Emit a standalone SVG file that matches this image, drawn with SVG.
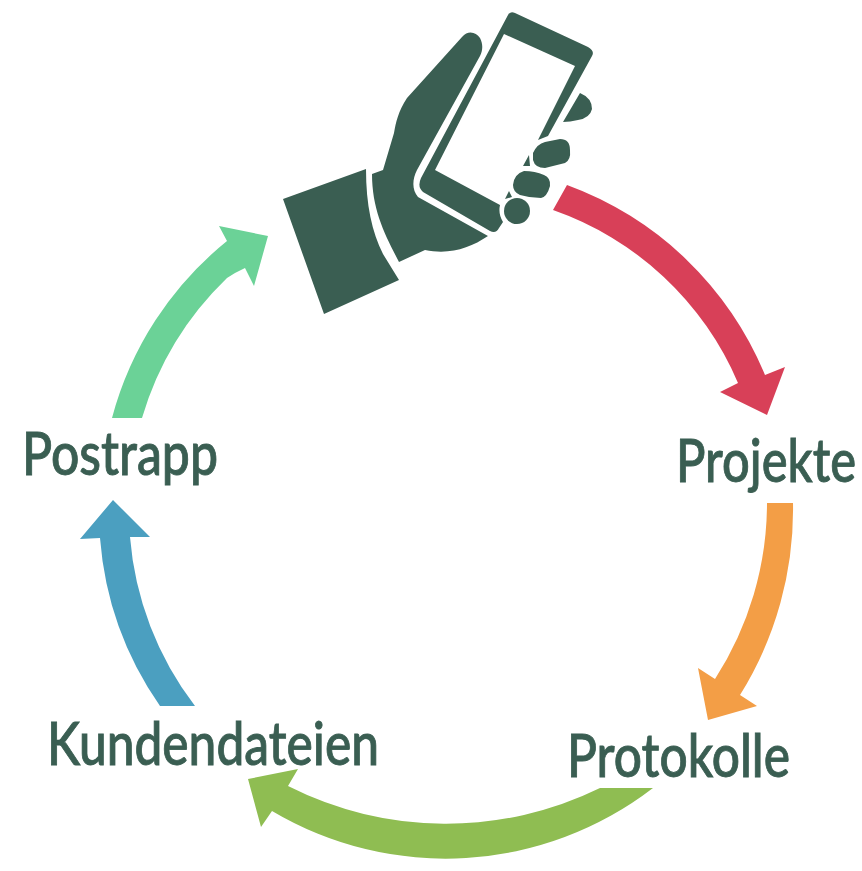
<svg xmlns="http://www.w3.org/2000/svg" width="862" height="871" viewBox="0 0 862 871">
<style>
.d{fill:#3a5e52}
.t{fill:#3a5e52;font-family:"Lato","Noto Sans",sans-serif;font-size:59px;font-weight:500;stroke:#3a5e52;stroke-width:.9}
</style>
<rect width="862" height="871" fill="#fff"/>
<g id="phone-hand">
<path class="d" d="M283,199 L366,169 C366,205 372,232 383,254 L399,280 L324,314 Z"/>
<path class="d" d="M372,174 L383,170 L394,133 C396,122 398,112 407,98 L462,37 C468,30 476,32 480,38 C483,44 483,50 480,56 L417,170 C412,180 412,190 418,197 L488,236 C470,248 450,255 425,250 L399,262 C385,235 372,210 372,174 Z"/>
<path class="d" d="M508,15 Q510,11 515,13 L588,47 Q595,51 592,56 L548,136 L538,140 L575,66 L504,34 L435,170 L500,205 Q498,214 503,222 L499,228 Q496,234 490,231 L423,192 Q417,187 421,178 Z"/>
<path class="d" d="M529,155 L523,166 L530,166 Z M509,191 L505,199 L512,197 Z"/>
<path class="d" d="M580,93 Q592,98 592,109 Q590,118 578,120 Q570,122 563,122 Z"/>
<path class="d" d="M533,153 Q537,144 545,142 L560,139 Q570,139 570,150 Q571,160 565,163 L545,168 Q535,168 533,160 Z"/>
<path class="d" d="M513,185 Q514,174 524,171 Q535,171 544,175 Q551,178 550,186 Q547,197 541,198 Q530,198 520,195 Q513,192 513,185 Z"/>
<circle class="d" cx="517" cy="211" r="13"/>
</g>
<g id="connectors">
<path fill="#d84058" d="M567,185 A340,340 0 0 1 765,375 L785,367 L767,415 L720,392 L738,383 A313,313 0 0 0 553,210 Z"/>
<path fill="#f39e46" d="M793,503 A350,350 0 0 1 740,695 L757,706 L708,720 L698,668 L715,679 A325,325 0 0 0 767,503 Z"/>
<path fill="#8fbd52" d="M653,788 A340,340 0 0 1 272,811 L261,827 L248,779 L298,769 L288,786 A350,350 0 0 0 600,788 Z"/>
<path fill="#4b9fc0" d="M160,706 A340,340 0 0 1 100,538 L80,539 L113,500 L150,537 L130,537 A320,320 0 0 0 195,706 Z"/>
<path fill="#6bd297" d="M112,418 A340,340 0 0 1 227,241 L219,226 L268,236 L254,286 L245,268 Q236,272 227,278 A320,320 0 0 0 142,418 Z"/>
</g>
<g id="label-projekte"><text class="t" x="676" y="482" textLength="180" lengthAdjust="spacingAndGlyphs">Projekte</text></g>
<g id="label-protokolle"><text class="t" x="567" y="777" textLength="223" lengthAdjust="spacingAndGlyphs">Protokolle</text></g>
<g id="label-kundendateien"><text class="t" x="47" y="765" textLength="332" lengthAdjust="spacingAndGlyphs">Kundendateien</text></g>
<g id="label-postrapp"><text class="t" x="22" y="475" textLength="196" lengthAdjust="spacingAndGlyphs">Postrapp</text></g>
</svg>
